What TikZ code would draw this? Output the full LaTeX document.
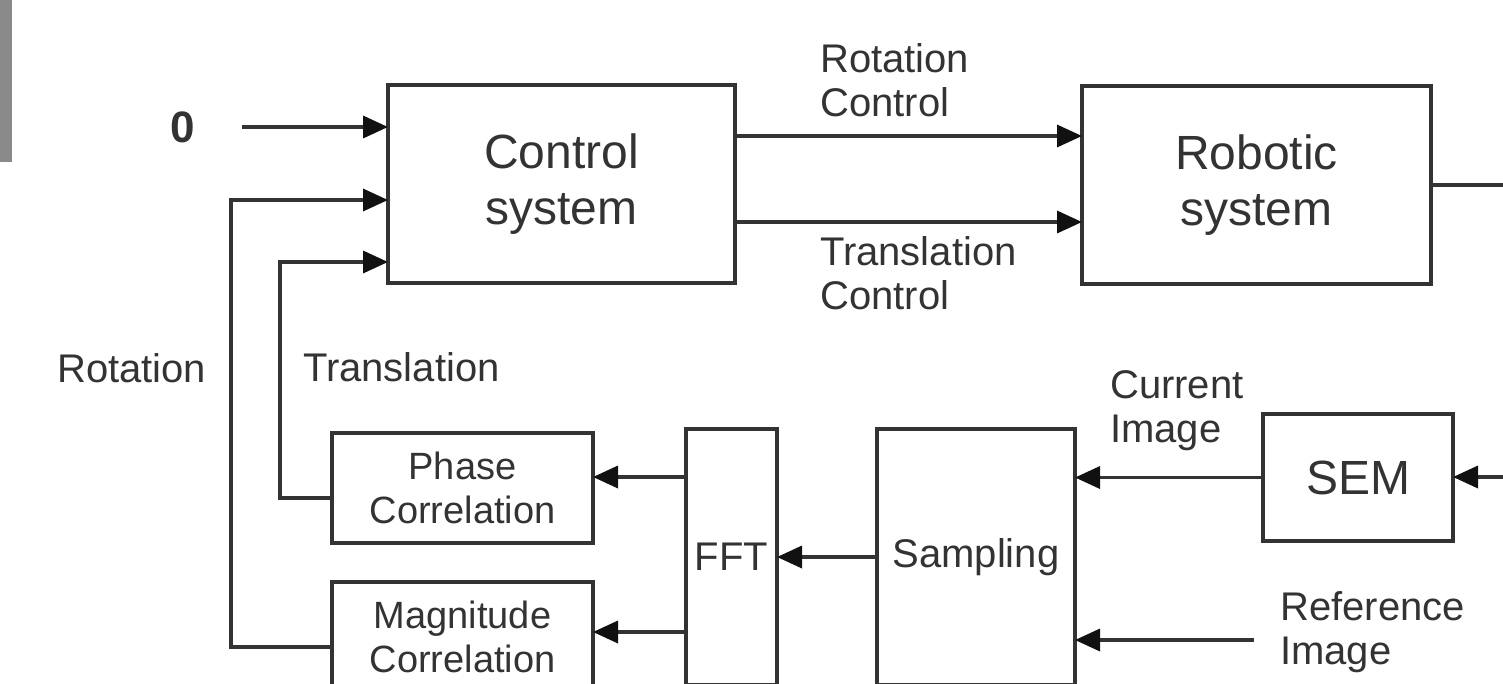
\documentclass[tikz,border=0pt]{standalone}
\usepackage{fontspec}
\setmainfont{Liberation Sans}
\usetikzlibrary{arrows.meta}
\definecolor{ink}{HTML}{333333}
\definecolor{tip}{HTML}{111111}
\definecolor{bar}{HTML}{8A8A8A}
\begin{document}
\begin{tikzpicture}[x=1pt,y=-1pt,
  box/.style={draw=ink, line width=3.5pt, text=ink, align=center, inner sep=0pt, outer sep=0pt},
  big/.style={font=\fontsize{48}{56}\selectfont},
  mid/.style={font=\fontsize{40}{44}\selectfont},
  small/.style={font=\fontsize{38}{44}\selectfont},
  lbl/.style={text=ink, align=left, inner sep=0pt, anchor=north west, font=\fontsize{40}{44.5}\selectfont},
  conn/.style={draw=ink, line width=3.5pt},
  arr/.style={conn, -{Triangle[length=25pt,width=22pt,color=tip]}}
]
\path[use as bounding box] (0,0) rectangle (1503,683);
\clip (0,0) rectangle (1503,683);
\fill[bar] (0,0) rectangle (12,162);

% blocks
\node[box, big, minimum width=347pt, minimum height=198pt] (ctrl) at (561.5,184) {Control\\system};
\node[box, big, minimum width=349pt, minimum height=198pt] (robot) at (1256.5,185) {Robotic\\system};
\node[box, small, minimum width=261pt, minimum height=110pt] (phase) at (462.5,488) {Phase\\Correlation};
\node[box, small, minimum width=261pt, minimum height=110pt] (mag) at (462.5,637) {Magnitude\\Correlation};
\node[box, mid, minimum width=91pt, minimum height=256pt] (fft) at (731.5,557) {FFT};
\node[box, mid, minimum width=198pt, minimum height=256pt] (samp) at (976,557) {Sampling};
\node[box, big, minimum width=190pt, minimum height=127pt] (sem) at (1358,477.5) {SEM};

% free ends
\coordinate (zero) at (242,127);
\coordinate (robout) at (1503,185);
\coordinate (semin) at (1503,477);
\coordinate (refin) at (1254,640);

% labels
\node[text=ink, inner sep=0pt, font=\bfseries\fontsize{44}{50}\selectfont] (zerolbl) at (183,127) {0};
\node[lbl] (rotctl) at (820,43) {Rotation\\Control};
\node[lbl] (trctl) at (820,236) {Translation\\Control};
\node[lbl] (curimg) at (1110,370) {Current\\Image};
\node[lbl] (refimg) at (1280,591) {Reference\\Image};
\node[lbl] (rotlbl) at (57,353) {Rotation};
\node[lbl] (trlbl) at (303,352) {Translation};

% connectors
\draw[arr] (zero) -- (ctrl.west |- zero);
\draw[arr] (ctrl.east |- 0,136) -- (robot.west |- 0,136);
\draw[arr] (ctrl.east |- 0,222) -- (robot.west |- 0,222);
\draw[conn] (robot.east |- robout) -- (robout);
\draw[arr] (semin) -- (sem.east |- semin);
\draw[arr] (sem.west) -- (samp.east |- sem.west);
\draw[arr] (refin) -- (samp.east |- refin);
\draw[arr] (samp.west |- fft.east) -- (fft.east);
\draw[arr] (fft.west |- 0,477) -- (phase.east |- 0,477);
\draw[arr] (fft.west |- 0,632) -- (mag.east |- 0,632);
\draw[arr] ([yshift=-10pt]phase.west) -| (280,262) -- (ctrl.west |- 0,262);
\draw[arr] ([yshift=-10pt]mag.west) -| (231,200) -- (ctrl.west |- 0,200);
\end{tikzpicture}
\end{document}
